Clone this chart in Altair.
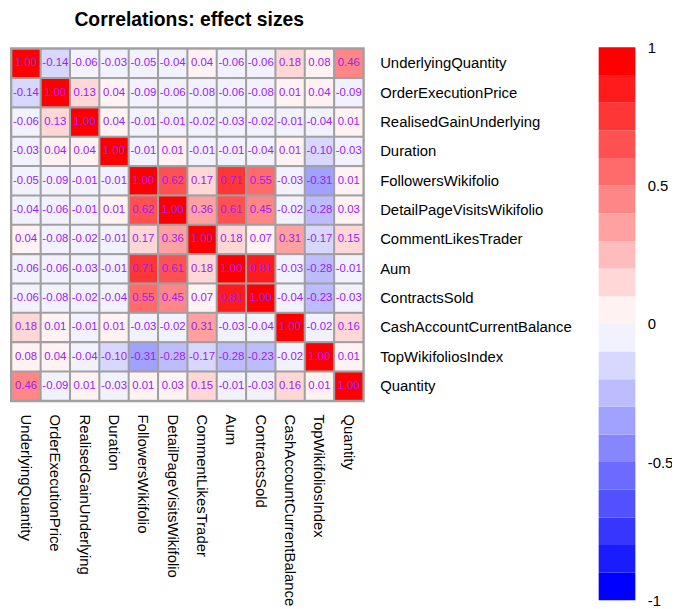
import altair as alt
import pandas as pd

variables = [
    "UnderlyingQuantity", "OrderExecutionPrice", "RealisedGainUnderlying", "Duration",
    "FollowersWikifolio", "DetailPageVisitsWikifolio", "CommentLikesTrader", "Aum",
    "ContractsSold", "CashAccountCurrentBalance", "TopWikifoliosIndex", "Quantity",
]

corr_rows = [
    [1.00, -0.14, -0.06, -0.03, -0.05, -0.04, 0.04, -0.06, -0.06, 0.18, 0.08, 0.46],
    [-0.14, 1.00, 0.13, 0.04, -0.09, -0.06, -0.08, -0.06, -0.08, 0.01, 0.04, -0.09],
    [-0.06, 0.13, 1.00, 0.04, -0.01, -0.01, -0.02, -0.03, -0.02, -0.01, -0.04, 0.01],
    [-0.03, 0.04, 0.04, 1.00, -0.01, 0.01, -0.01, -0.01, -0.04, 0.01, -0.10, -0.03],
    [-0.05, -0.09, -0.01, -0.01, 1.00, 0.62, 0.17, 0.71, 0.55, -0.03, -0.31, 0.01],
    [-0.04, -0.06, -0.01, 0.01, 0.62, 1.00, 0.36, 0.61, 0.45, -0.02, -0.28, 0.03],
    [0.04, -0.08, -0.02, -0.01, 0.17, 0.36, 1.00, 0.18, 0.07, 0.31, -0.17, 0.15],
    [-0.06, -0.06, -0.03, -0.01, 0.71, 0.61, 0.18, 1.00, 0.81, -0.03, -0.28, -0.01],
    [-0.06, -0.08, -0.02, -0.04, 0.55, 0.45, 0.07, 0.81, 1.00, -0.04, -0.23, -0.03],
    [0.18, 0.01, -0.01, 0.01, -0.03, -0.02, 0.31, -0.03, -0.04, 1.00, -0.02, 0.16],
    [0.08, 0.04, -0.04, -0.10, -0.31, -0.28, -0.17, -0.28, -0.23, -0.02, 1.00, 0.01],
    [0.46, -0.09, 0.01, -0.03, 0.01, 0.03, 0.15, -0.01, -0.03, 0.16, 0.01, 1.00],
]

legend_ticks = [-1, -0.5, 0, 0.5, 1]

# 20-step blue-white-red palette (like colorRampPalette(c("blue","white","red"))(20))
n_bins = 20
palette = []
for i in range(n_bins):
    t = i / (n_bins - 1)
    if t < 0.5:
        c = round(255 * t / 0.5)
        palette.append("#%02X%02XFF" % (c, c))
    else:
        c = round(255 * (1 - (t - 0.5) / 0.5))
        palette.append("#FF%02X%02X" % (c, c))
thresholds = [round(-0.9 + 0.1 * i, 2) + 1e-9 for i in range(n_bins - 1)]
color_scale = alt.Scale(type="threshold", domain=thresholds, range=palette)

records = []
for r, row in enumerate(corr_rows):
    for c, v in enumerate(row):
        records.append({"row": variables[r], "col": variables[c], "value": v,
                        "label": f"{v:.2f}"})
df = pd.DataFrame(records)

FONT = "Liberation Sans"

base = alt.Chart(df).encode(
    x=alt.X("col:N", sort=variables, title=None,
            scale=alt.Scale(paddingInner=0.07, paddingOuter=0.08),
            axis=alt.Axis(orient="bottom", labelAngle=90, labelAlign="left",
                          labelBaseline="middle", ticks=False, domain=False,
                          labelPadding=12, labelFontSize=15, labelFont=FONT,
                          labelColor="black", labelLimit=400)),
    y=alt.Y("row:N", sort=variables, title=None,
            scale=alt.Scale(paddingInner=0.07, paddingOuter=0.08),
            axis=alt.Axis(orient="right", ticks=False, domain=False,
                          labelPadding=15, labelFontSize=15, labelFont=FONT,
                          labelColor="black", labelLimit=400)),
)

cells = base.mark_rect().encode(
    color=alt.Color("value:Q", scale=color_scale, legend=None)
)
texts = base.mark_text(font=FONT, fontSize=11.5, color="#A020F0").encode(
    text="label:N"
)

heat = alt.layer(cells, texts).properties(
    width=358, height=358,
    view=alt.ViewBackground(fill="#A0A0A0", stroke=None),
)

bins_df = pd.DataFrame({
    "lo": [round(-1 + 0.1 * i, 2) for i in range(n_bins)],
    "hi": [round(-1 + 0.1 * (i + 1), 2) for i in range(n_bins)],
})
bins_df["mid"] = (bins_df["lo"] + bins_df["hi"]) / 2

colorbar = alt.Chart(bins_df).mark_rect().encode(
    x=alt.value(0), x2=alt.value(37),
    y=alt.Y("lo:Q", scale=alt.Scale(domain=[-1, 1], nice=False, zero=False), title=None,
            axis=alt.Axis(orient="right", values=legend_ticks, ticks=False, domain=False,
                          grid=False, labelPadding=12, labelFontSize=15, labelFont=FONT,
                          labelColor="black", labelExpr="'' + datum.value")),
    y2="hi:Q",
    color=alt.Color("mid:Q", scale=color_scale, legend=None),
).properties(width=37, height=558, view=alt.ViewBackground(stroke=None))

# fixed-size canvas (clipped at the bottom like the reference image)
chart = alt.hconcat(heat, colorbar, spacing=27).resolve_scale(color="independent").properties(
    title=alt.TitleParams("Correlations: effect sizes", anchor="start", dx=65,
                          font=FONT, fontSize=19.5, fontWeight="bold", color="black",
                          offset=10),
    autosize=alt.AutoSizeParams(type="none"),
    padding={"left": 2, "top": 37, "right": 668, "bottom": 564},
).configure_view(stroke=None)

chart.save("out.html", embed_options={"renderer": "svg", "actions": False})
